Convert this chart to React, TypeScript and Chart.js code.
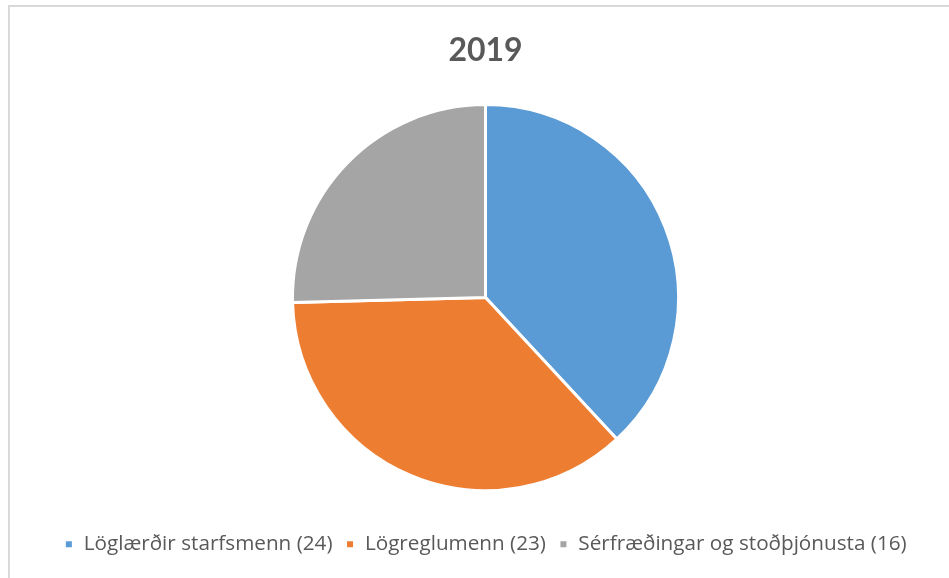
import React, { useEffect, useRef } from "react";
import { Chart, registerables } from "chart.js";

Chart.register(...registerables);

const categories = [
  "Löglærðir starfsmenn (24)",
  "Lögreglumenn (23)",
  "Sérfræðingar og stoðþjónusta (16)",
];
const values = [24, 23, 16];
const colors = ["#5B9BD5", "#ED7D31", "#A5A5A5"];
const titleText = "2019";

export default function App() {
  const ref = useRef<HTMLCanvasElement | null>(null);
  useEffect(() => {
    if (!ref.current) return;
    const chart = new Chart(ref.current, {
      type: "pie",
      data: {
        labels: categories,
        datasets: [
          {
            data: values,
            backgroundColor: colors,
            borderColor: "#ffffff",
            borderWidth: 3,
            radius: 193,
          },
        ],
      },
      options: {
        animation: false,
        responsive: true,
        maintainAspectRatio: false,
        layout: { padding: { left: 22, right: 0, top: 31, bottom: 13.5 } },
        plugins: {
          title: {
            display: true,
            text: titleText,
            color: "#595959",
            font: { family: "Lato", size: 32, weight: "bold", lineHeight: 1.2 },
            padding: { top: 0, bottom: 5 },
          },
          legend: {
            position: "bottom",
            labels: {
              color: "#595959",
              boxWidth: 9,
              boxHeight: 9,
              padding: 13,
              font: { family: "Open Sans", size: 20.7 },
            },
          },
          tooltip: { enabled: false },
        },
      },
    });
    return () => chart.destroy();
  }, []);
  return (
    <div style={{ position: "fixed", left: 0, top: 0, width: 949, height: 578, background: "#fff" }}>
      <div
        style={{
          position: "absolute",
          left: 8,
          top: 5,
          width: 980,
          height: 620,
          border: "2px solid #d9d9d9",
          boxSizing: "border-box",
        }}
      />
      <div style={{ position: "absolute", left: 0, top: 0, width: 949, height: 578 }}>
        <canvas ref={ref} />
      </div>
    </div>
  );
}
